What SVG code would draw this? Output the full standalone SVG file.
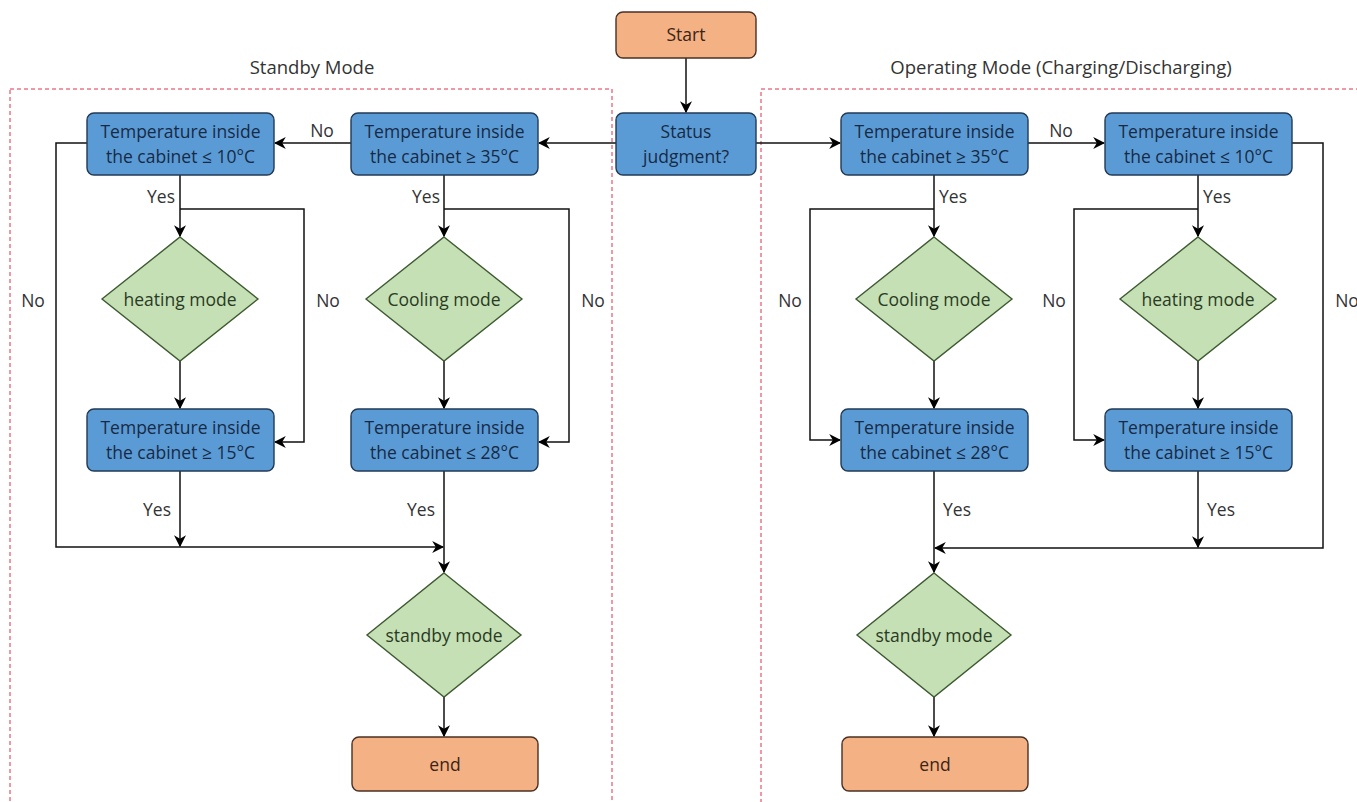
<svg xmlns="http://www.w3.org/2000/svg" width="1357" height="802" viewBox="0 0 1357 802">
<defs>
<marker id="arr" viewBox="0 0 10 10" refX="9" refY="5" markerWidth="12" markerHeight="12" markerUnits="userSpaceOnUse" orient="auto">
<path d="M0,0 L10,5 L0,10 L3,5 z" fill="#000"/>
</marker>
<style>
text{font-family:"Open Sans","Noto Sans","DejaVu Sans",sans-serif;font-size:17.5px;text-anchor:middle;dominant-baseline:central}
.blue rect{fill:#5B9BD5;stroke:#223a55;stroke-width:1.4}
.blue text{fill:#172a45}
.green polygon{fill:#C5E0B4;stroke:#3e5a32;stroke-width:1.4}
.green text{fill:#2a3a24}
.orange rect{fill:#F4B183;stroke:#4a3025;stroke-width:1.4}
.orange text{fill:#3a2418}
.lbl{fill:#333;font-size:17.5px}
.title{fill:#333;font-size:18.5px}
.panel{fill:none;stroke:#e0304a;stroke-width:1;stroke-dasharray:4 3}
#connectors path{fill:none;stroke:#111;stroke-width:1.5}
</style>
</defs>
<rect width="1357" height="802" fill="#fff"/>
<g id="panels">
<rect class="panel" x="10" y="89" width="602" height="720"/>
<rect class="panel" x="761" y="89" width="610" height="720"/>
<text class="title" x="312" y="66">Standby Mode</text>
<text class="title" x="1061" y="66">Operating Mode (Charging/Discharging)</text>
</g>
<g id="connectors">
<path d="M686,58 V112" marker-end="url(#arr)"/>
<path d="M616,143 H539" marker-end="url(#arr)"/>
<path d="M756,143 H840" marker-end="url(#arr)"/>
<path d="M351,143 H275" marker-end="url(#arr)"/>
<path d="M1028,143 H1104" marker-end="url(#arr)"/>
<path d="M180,175 V236" marker-end="url(#arr)"/>
<path d="M180,209 H304 V442 H275" marker-end="url(#arr)"/>
<path d="M180,361 V408" marker-end="url(#arr)"/>
<path d="M444,175 V236" marker-end="url(#arr)"/>
<path d="M444,209 H569 V442 H539" marker-end="url(#arr)"/>
<path d="M444,361 V408" marker-end="url(#arr)"/>
<path d="M87,143 H56 V547 H443" marker-end="url(#arr)"/>
<path d="M180,471 V546" marker-end="url(#arr)"/>
<path d="M444,471 V572" marker-end="url(#arr)"/>
<path d="M444,697 V736" marker-end="url(#arr)"/>
<path d="M934,175 V236" marker-end="url(#arr)"/>
<path d="M934,209 H810 V440 H840" marker-end="url(#arr)"/>
<path d="M934,361 V408" marker-end="url(#arr)"/>
<path d="M1198,175 V236" marker-end="url(#arr)"/>
<path d="M1198,209 H1074 V440 H1104" marker-end="url(#arr)"/>
<path d="M1198,361 V408" marker-end="url(#arr)"/>
<path d="M1292,143 H1323 V548 H935" marker-end="url(#arr)"/>
<path d="M1198,471 V547" marker-end="url(#arr)"/>
<path d="M934,471 V572" marker-end="url(#arr)"/>
<path d="M934,697 V736" marker-end="url(#arr)"/>
<g id="labels">
<text class="lbl" x="322" y="130">No</text>
<text class="lbl" x="1061" y="130">No</text>
<text class="lbl" x="33" y="300">No</text>
<text class="lbl" x="328" y="300">No</text>
<text class="lbl" x="593" y="300">No</text>
<text class="lbl" x="790" y="300">No</text>
<text class="lbl" x="1054" y="300">No</text>
<text class="lbl" x="1347" y="300">No</text>
<text class="lbl" x="161" y="196">Yes</text>
<text class="lbl" x="426" y="196">Yes</text>
<text class="lbl" x="953" y="196">Yes</text>
<text class="lbl" x="1217" y="196">Yes</text>
<text class="lbl" x="157" y="509">Yes</text>
<text class="lbl" x="421" y="509">Yes</text>
<text class="lbl" x="957" y="509">Yes</text>
<text class="lbl" x="1221" y="509">Yes</text>
</g>
</g>
<g id="start" class="orange"><rect x="616" y="12" width="140" height="46" rx="7"/><text x="686" y="34">Start</text></g>
<g id="status" class="blue"><rect x="616" y="113" width="140" height="62" rx="7"/><text x="686" y="131">Status</text><text x="686" y="156">judgment?</text></g>
<g id="l_le10" class="blue"><rect x="87" y="113" width="187" height="62" rx="7"/><text x="180.5" y="131">Temperature inside</text><text x="180.5" y="156">the cabinet ≤ 10°C</text></g>
<g id="l_ge35" class="blue"><rect x="351" y="113" width="187" height="62" rx="7"/><text x="444.5" y="131">Temperature inside</text><text x="444.5" y="156">the cabinet ≥ 35°C</text></g>
<g id="l_heat" class="green"><polygon points="180,237 258,299 180,361 102,299"/><text x="180" y="299">heating mode</text></g>
<g id="l_cool" class="green"><polygon points="444,237 522,299 444,361 366,299"/><text x="444" y="299">Cooling mode</text></g>
<g id="l_ge15" class="blue"><rect x="87" y="409" width="187" height="62" rx="7"/><text x="180.5" y="427">Temperature inside</text><text x="180.5" y="452">the cabinet ≥ 15°C</text></g>
<g id="l_le28" class="blue"><rect x="351" y="409" width="187" height="62" rx="7"/><text x="444.5" y="427">Temperature inside</text><text x="444.5" y="452">the cabinet ≤ 28°C</text></g>
<g id="l_standby" class="green"><polygon points="444,573 521,635 444,697 367,635"/><text x="444" y="635">standby mode</text></g>
<g id="l_end" class="orange"><rect x="352" y="737" width="186" height="54" rx="7"/><text x="445" y="764">end</text></g>
<g id="r_ge35" class="blue"><rect x="841" y="113" width="187" height="62" rx="7"/><text x="934.5" y="131">Temperature inside</text><text x="934.5" y="156">the cabinet ≥ 35°C</text></g>
<g id="r_le10" class="blue"><rect x="1105" y="113" width="187" height="62" rx="7"/><text x="1198.5" y="131">Temperature inside</text><text x="1198.5" y="156">the cabinet ≤ 10°C</text></g>
<g id="r_cool" class="green"><polygon points="934,237 1012,299 934,361 856,299"/><text x="934" y="299">Cooling mode</text></g>
<g id="r_heat" class="green"><polygon points="1198,237 1276,299 1198,361 1120,299"/><text x="1198" y="299">heating mode</text></g>
<g id="r_le28" class="blue"><rect x="841" y="409" width="187" height="62" rx="7"/><text x="934.5" y="427">Temperature inside</text><text x="934.5" y="452">the cabinet ≤ 28°C</text></g>
<g id="r_ge15" class="blue"><rect x="1105" y="409" width="187" height="62" rx="7"/><text x="1198.5" y="427">Temperature inside</text><text x="1198.5" y="452">the cabinet ≥ 15°C</text></g>
<g id="r_standby" class="green"><polygon points="934,573 1011,635 934,697 857,635"/><text x="934" y="635">standby mode</text></g>
<g id="r_end" class="orange"><rect x="842" y="737" width="186" height="54" rx="7"/><text x="935" y="764">end</text></g>
</svg>
